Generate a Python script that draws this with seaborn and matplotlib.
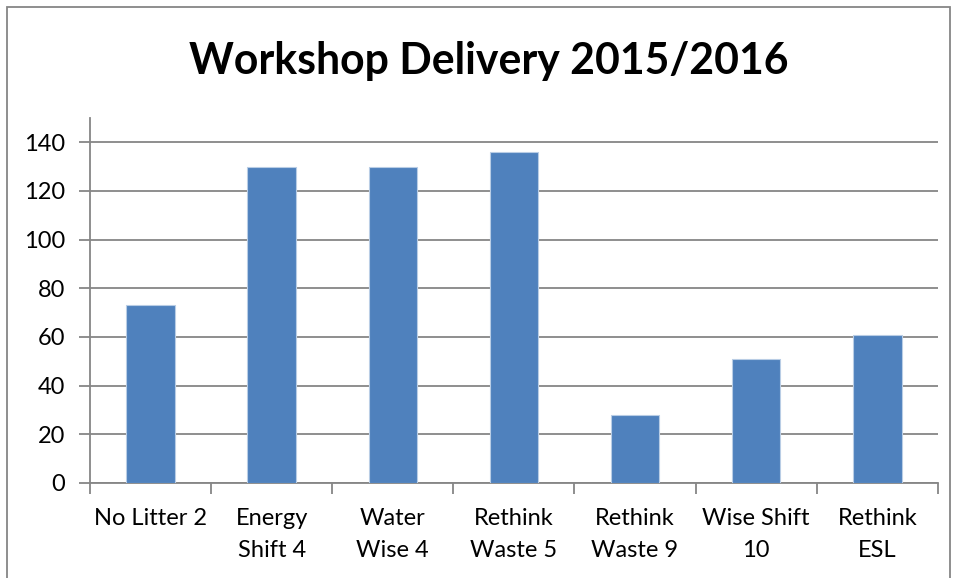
import numpy as np
import pandas as pd
import matplotlib.pyplot as plt
import seaborn as sns
from matplotlib.patches import Rectangle

# Chart data
workshops = ['No Litter 2', 'Energy\nShift 4', 'Water\nWise 4', 'Rethink\nWaste 5',
             'Rethink\nWaste 9', 'Wise Shift\n10', 'Rethink\nESL']
deliveries = [73, 130, 130, 136, 28, 51, 61]
y_ticks = [0, 20, 40, 60, 80, 100, 120, 140]

data = pd.DataFrame({'workshop': workshops, 'count': deliveries})

sns.set_style('white')
plt.rcParams['font.family'] = ['Lato', 'DejaVu Sans']
plt.rcParams['text.color'] = 'black'
plt.rcParams['xtick.labelcolor'] = 'black'
plt.rcParams['ytick.labelcolor'] = 'black'

fig = plt.figure(figsize=(9.57, 5.78), dpi=100)
ax = fig.add_axes([0.094, 0.1644, 0.886, 0.6315])

sns.barplot(x='workshop', y='count', data=data, color='#4F81BD', width=0.4,
            saturation=1, edgecolor='#B9CDE5', linewidth=0.8, ax=ax, zorder=3)

grid_color = '#868686'
ax.set_ylim(0, 150)
ax.set_xlim(-0.5, len(workshops) - 0.5)
ax.set_yticks(y_ticks)
ax.yaxis.grid(True, color=grid_color, linewidth=1.3, zorder=0)
ax.set_axisbelow(True)

# category boundary ticks on the x axis
ax.set_xticks(range(len(workshops)))
ax.set_xticklabels(workshops, linespacing=1.62)
ax.set_xticks(np.arange(-0.5, len(workshops)), minor=True)
ax.tick_params(axis='x', which='major', length=0, pad=18, labelsize=17)
ax.tick_params(axis='x', which='minor', length=8, width=1.3, color=grid_color, direction='out')
ax.tick_params(axis='y', length=8, width=1.3, color=grid_color, direction='out', labelsize=17, pad=10)
ax.xaxis.set_ticks_position('bottom')
ax.yaxis.set_ticks_position('left')

for side in ['top', 'right']:
    ax.spines[side].set_visible(False)
for side in ['left', 'bottom']:
    ax.spines[side].set_color(grid_color)
    ax.spines[side].set_linewidth(1.3)

ax.set_xlabel('')
ax.set_ylabel('')

fig.text(0.511, 0.895, 'Workshop Delivery 2015/2016', ha='center', va='center',
         fontsize=30.8, fontweight='bold', color='black')

# chart border
fig.patches.append(Rectangle((7 / 957, -0.05), 943 / 957, 1 - 7 / 578 + 0.05,
                             transform=fig.transFigure, fill=False,
                             edgecolor='#868686', linewidth=1.3))

fig.savefig('out.png', dpi=100)
